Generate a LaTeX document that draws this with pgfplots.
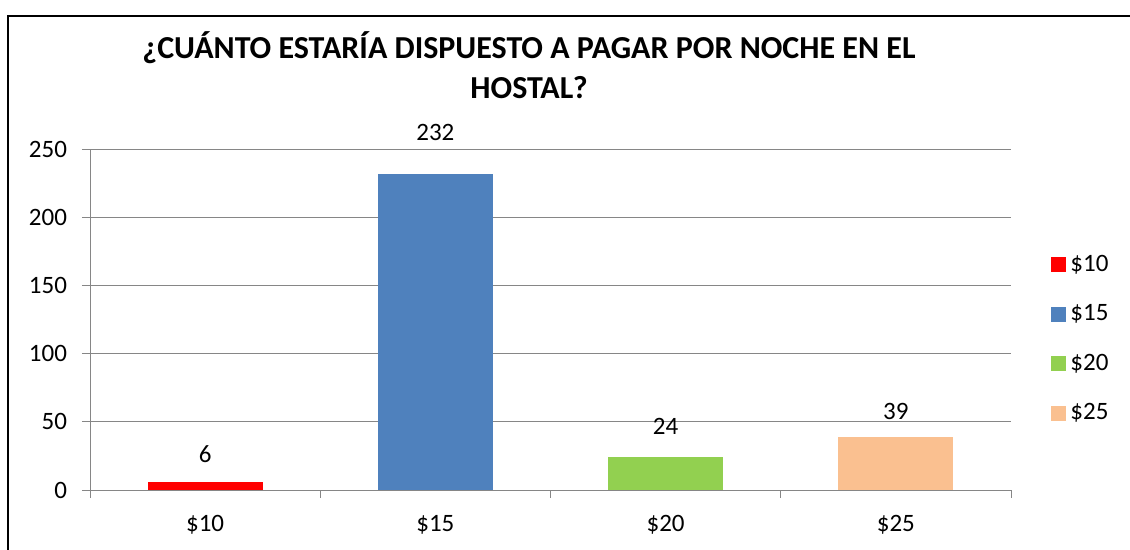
\documentclass[border=0pt]{standalone}
\usepackage{fontspec}
\setmainfont{Carlito}
\usepackage{pgfplots}
\pgfplotsset{compat=1.18}
\definecolor{cred}{HTML}{FF0000}
\definecolor{cblue}{HTML}{4F81BD}
\definecolor{cgreen}{HTML}{92D050}
\definecolor{cpeach}{HTML}{FAC090}
\definecolor{gridgray}{HTML}{868686}
\begin{document}
\begin{tikzpicture}[x=0.5pt,y=0.5pt]
% page = 1130 x 550 px, 1px = 0.5pt, y measured from the bottom
\useasboundingbox (0,0) rectangle (1130,550);
\draw[line width=1pt] (8,-10) -- (8,534) -- (1140,534);
\node[font=\bfseries\fontsize{16}{20}\selectfont, align=center] at (529,485)
  {¿CUÁNTO ESTARÍA DISPUESTO A PAGAR POR NOCHE EN EL\\HOSTAL?};
\begin{axis}[
  at={(45pt,30pt)}, anchor=south west,
  scale only axis, width=460.5pt, height=170.5pt,
  xmin=0, xmax=4, ymin=0, ymax=250,
  ybar, bar width=0.5,
  axis x line=bottom, axis y line=left,
  axis line style={gridgray, -},
  xtick={0.5,1.5,2.5,3.5},
  xticklabels={\$10,\$15,\$20,\$25},
  minor xtick={0,1,2,3,4},
  major x tick style={draw=none},
  minor tick length=4pt, major tick length=4pt,
  tick align=outside,
  tick style={gridgray, thin},
  ytick={0,50,...,250},
  ymajorgrids, grid style={gridgray, thin},
  /pgf/number format/assume math mode=true,
  ticklabel style={font=\fontsize{12.5}{14}\selectfont},
  xticklabel style={yshift=-5pt},
  yticklabel style={xshift=-4pt},
  nodes near coords,
  every node near coord/.append style={font=\fontsize{12.5}{14}\selectfont, black},
  legend style={at={(1.037,0.443)}, anchor=west, draw=none, fill=none,
                font=\fontsize{12.5}{14}\selectfont,
                row sep=11.2pt, cells={anchor=west}},
  legend image code/.code={\fill[#1] (0pt,-3.75pt) rectangle (7.5pt,3.75pt);},
]
\addplot[fill=cred, draw=none, bar shift=0pt, nodes near coords style={yshift=6pt}] coordinates {(0.5,6)};
\addplot[fill=cblue, draw=none, bar shift=0pt, nodes near coords style={yshift=13pt}] coordinates {(1.5,232)};
\addplot[fill=cgreen, draw=none, bar shift=0pt, nodes near coords style={yshift=8pt}] coordinates {(2.5,24)};
\addplot[fill=cpeach, draw=none, bar shift=0pt, nodes near coords style={yshift=5pt}] coordinates {(3.5,39)};
\legend{\$10,\$15,\$20,\$25}
\end{axis}
\end{tikzpicture}
\end{document}
